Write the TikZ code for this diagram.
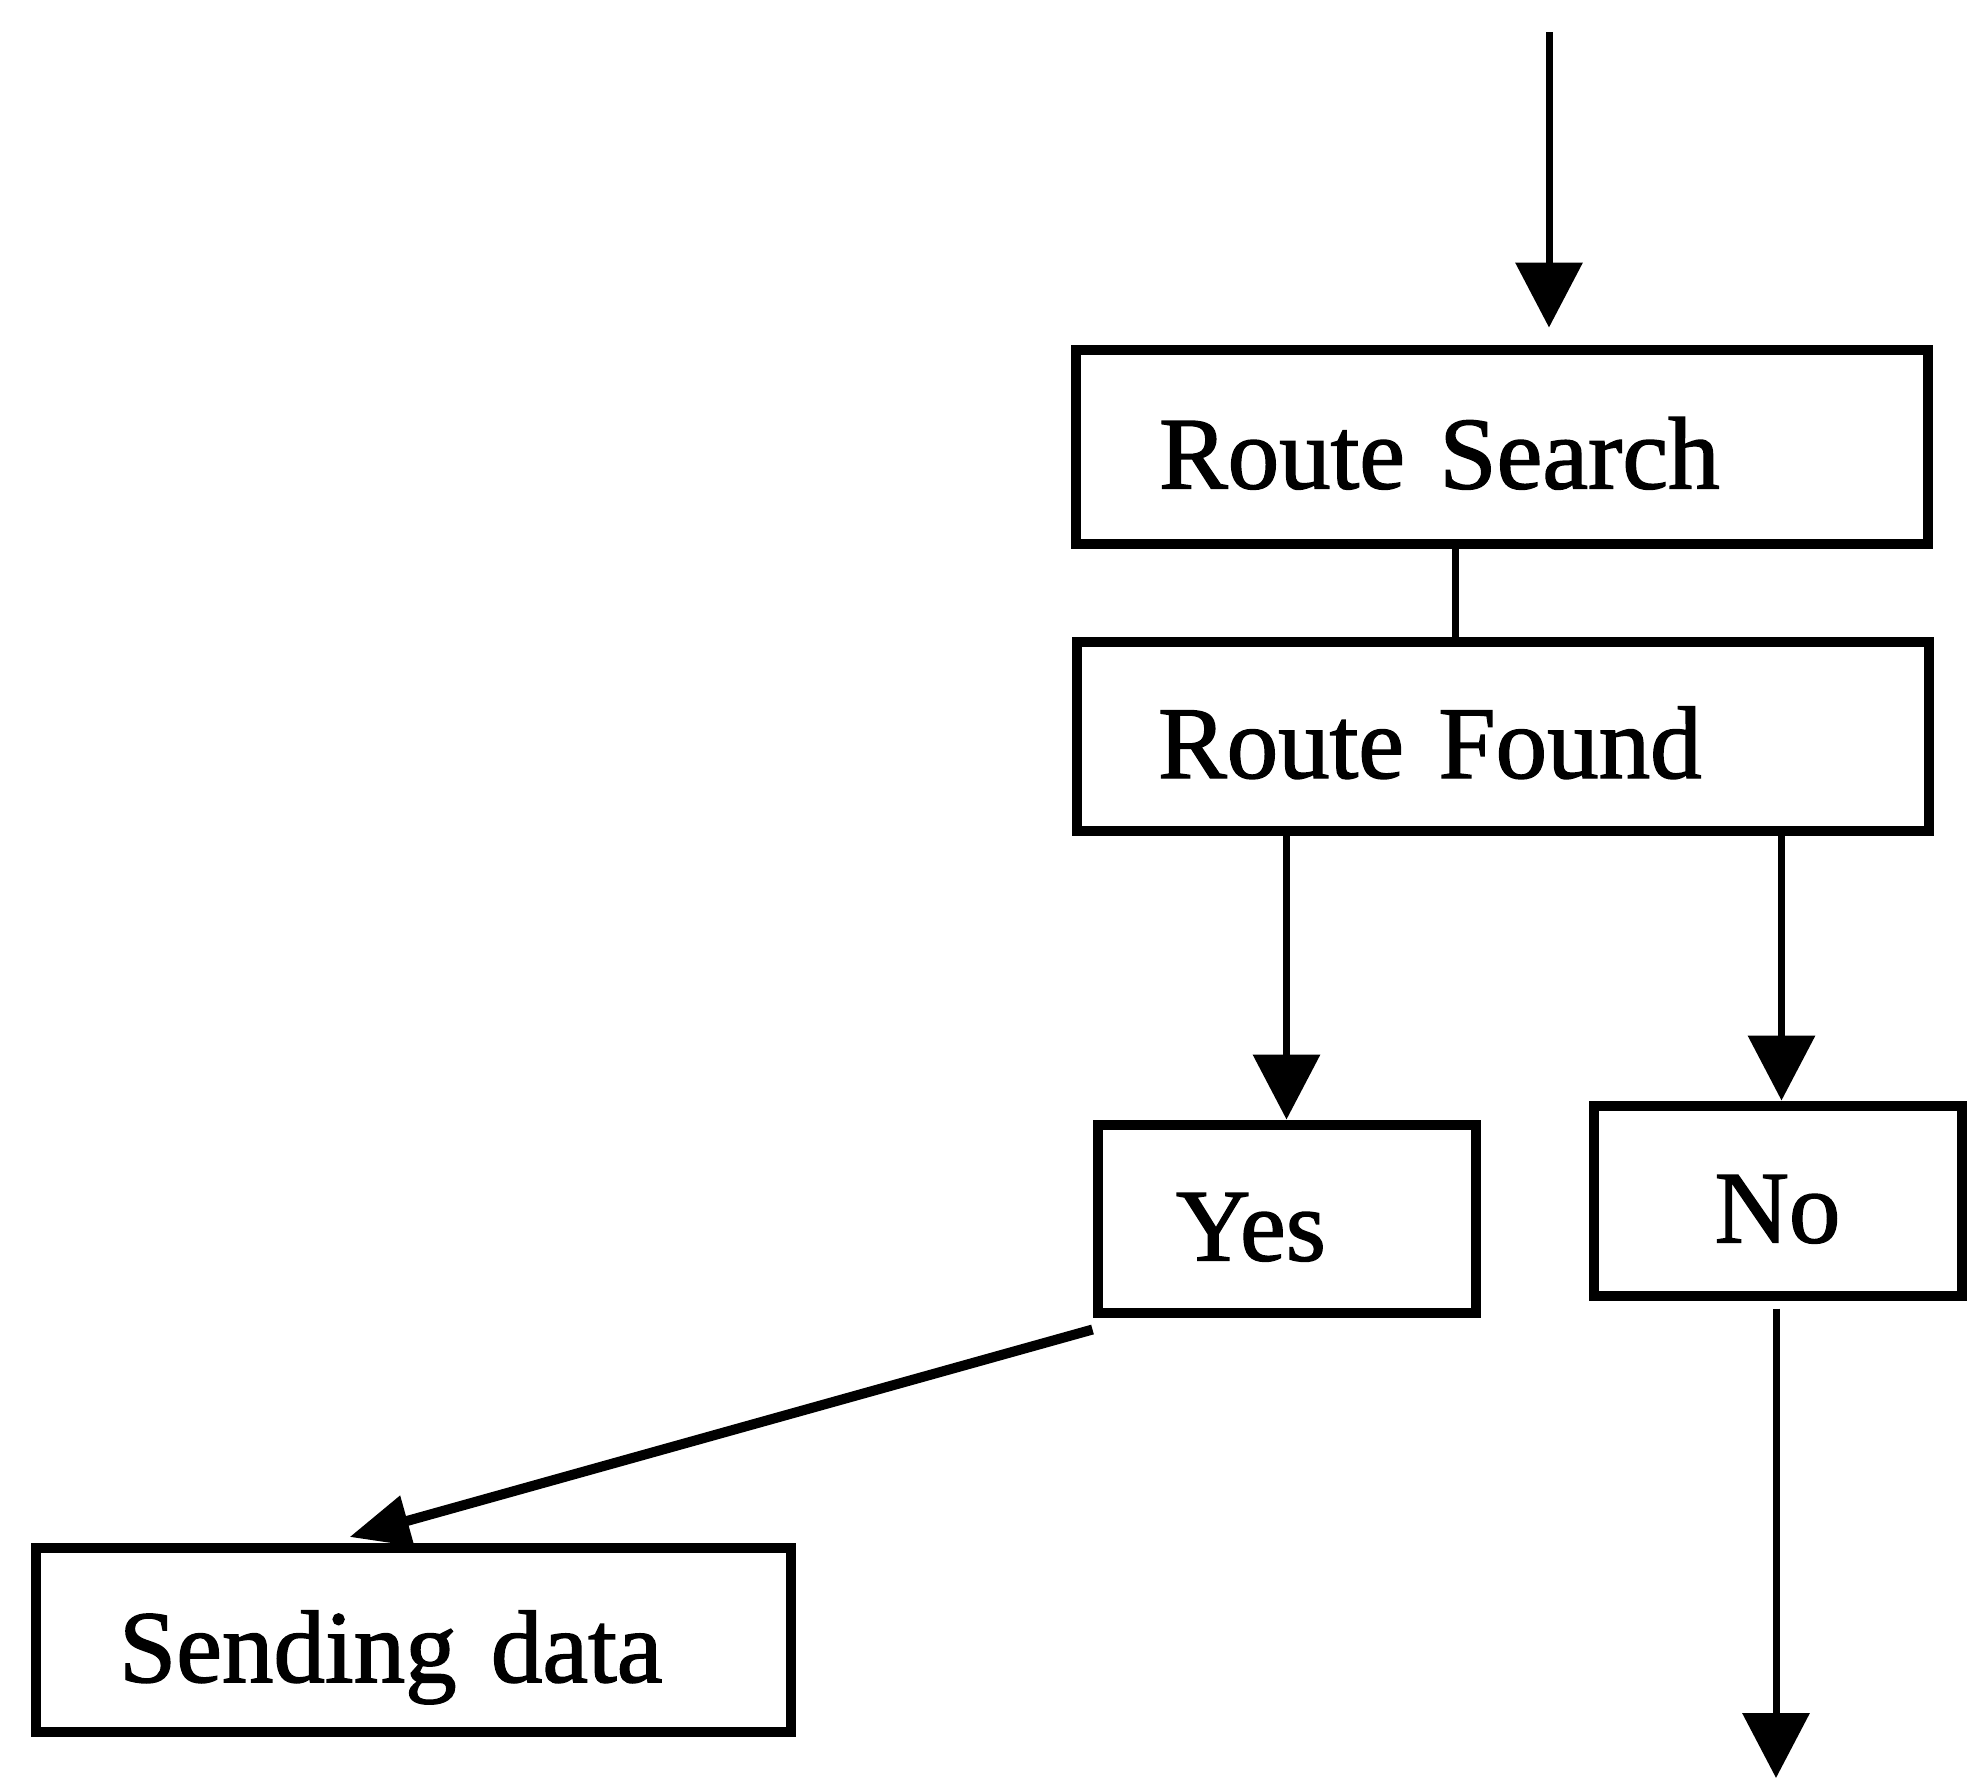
\documentclass[tikz,border=0pt]{standalone}
\usepackage{fontspec}
\setmainfont{Liberation Serif}
\newfontfamily\printface{Liberation Serif}[FakeBold=1.4]
\usetikzlibrary{arrows.meta,calc}
\begin{document}
\begin{tikzpicture}[x=1pt,y=-1pt,
  box/.style={draw, rectangle, line width=10pt, inner ysep=0pt,
    text height=84pt, text depth=0pt,
    font=\printface\fontsize{103}{120}\selectfont},
  conn/.style={line width=7pt},
  arr/.style={conn, -{Triangle[length=65pt,width=66pt]}}]
\useasboundingbox (0,0) rectangle (1972,1778);

% boxes
\node[box, minimum width=852pt, minimum height=194pt,
      inner xsep=83.5pt, text width=685pt, align=left]
  (rs) at (1501.5,446.5) {Route Search};
\node[box, minimum width=852pt, minimum height=189pt,
      inner xsep=81.5pt, text width=689pt, align=left]
  (rf) at (1502.5,736) {Route Found};
\node[box, minimum width=378pt, minimum height=188pt,
      inner xsep=78.5pt, text width=221pt, align=left]
  (yes) at (1286.5,1218.5) {Yes};
\node[box, minimum width=368pt, minimum height=190pt, inner xsep=0pt]
  (no) at (1777.5,1200.5) {No};
\node[box, minimum width=755pt, minimum height=184pt,
      inner xsep=83pt, text width=589pt, align=left]
  (send) at (413.5,1640) {Sending data};

% free ends
\coordinate (in) at (1549,32);
\coordinate (out) at (1776,1778);

% connectors
\draw[arr, shorten >=17pt] (in) -- (in |- rs.north);
\draw[conn] ([xshift=-46pt]rs.south) -- ([xshift=-46pt]rs.south |- rf.north);
\draw[arr] (yes.north |- rf.south) -- (yes.north);
\draw[arr] ([xshift=4pt]no.north |- rf.south) -- ([xshift=4pt]no.north);
\draw[arr, shorten <=8pt] (no.south -| out) -- (out);
\draw[conn, line width=10pt, -{Triangle[length=60pt,width=50pt]}]
  ([yshift=-12pt]yes.south west) -- ([xshift=-64pt,yshift=6pt]send.north);
\end{tikzpicture}
\end{document}
